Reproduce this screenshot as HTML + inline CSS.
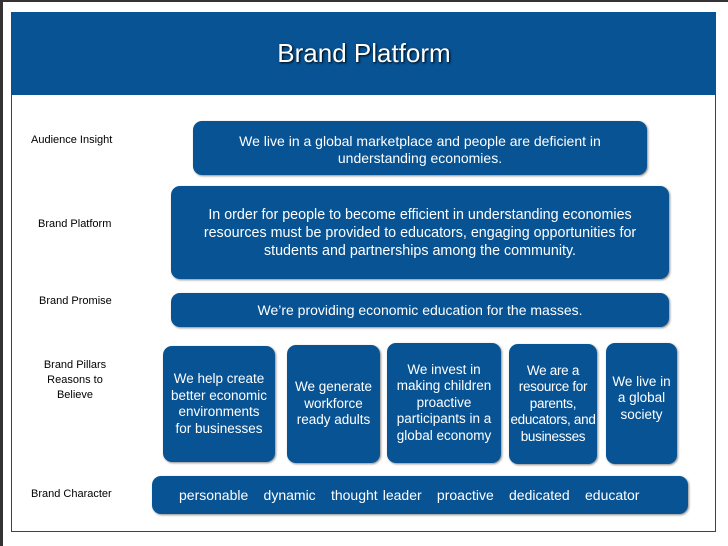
<!DOCTYPE html>
<html><head><style>
body{margin:0;width:728px;height:546px;background:#fff;position:relative;overflow:hidden;font-family:"Liberation Sans",sans-serif}
.frame{position:absolute;left:11px;top:12px;width:705px;height:520px;border:1px solid #2b4660;box-sizing:border-box}
.hdr{position:absolute;left:12px;top:12px;width:704px;height:83px;background:#075394;color:#fff;font-size:26px;text-align:center;line-height:83px;text-shadow:1px 1px 2px #000}
.b{position:absolute;background:#075394;color:#fff;border-radius:9px;display:flex;align-items:center;justify-content:center;text-align:center;font-size:14px;line-height:17px;box-shadow:1px 1px 2px #888}
.p{font-size:13.5px;line-height:16.5px}
.l{position:absolute;font-size:11px;color:#000;text-align:center;line-height:15px}
</style></head><body>
<div style="position:absolute;left:0;top:0;width:728px;height:2px;background:#333"></div>
<div style="position:absolute;left:0;top:0;width:3px;height:546px;background:#333"></div>
<div class="frame"></div>
<div class="hdr">Brand Platform</div>
<div class="l" style="left:31px;top:133px">Audience Insight</div>
<div class="l" style="left:38px;top:217px">Brand Platform</div>
<div class="l" style="left:39px;top:294px">Brand Promise</div>
<div class="l" style="left:35px;top:358px;width:80px">Brand Pillars<br>Reasons to<br>Believe</div>
<div class="l" style="left:31px;top:487px">Brand Character</div>
<div class="b" style="left:193px;top:121px;width:454px;height:54px;padding-top:3px;box-sizing:border-box">We live in a global marketplace and people are deficient in<br>understanding economies.</div>
<div class="b" style="left:171px;top:186px;width:498px;height:93px;line-height:18px;font-size:14.3px">In order for people to become efficient in understanding economies<br>resources must be provided to educators, engaging opportunities for<br>students and partnerships among the community.</div>
<div class="b" style="left:171px;top:293px;width:498px;height:34px">We’re providing economic education for the masses.</div>
<div class="b p" style="left:163px;top:346px;width:112px;height:116px">We help create<br>better economic<br>environments<br>for businesses</div>
<div class="b p" style="left:287px;top:345px;width:93px;height:118px">We generate<br>workforce<br>ready adults</div>
<div class="b p" style="left:387px;top:343px;width:114px;height:120px">We invest in<br>making children<br>proactive<br>participants in a<br>global economy</div>
<div class="b p" style="left:509px;top:344px;width:88px;height:120px;letter-spacing:-0.3px">We are a<br>resource for<br>parents,<br>educators, and<br>businesses</div>
<div class="b p" style="left:606px;top:343px;width:71px;height:121px;padding-bottom:10px;box-sizing:border-box">We live in<br>a global<br>society</div>
<div class="b" style="left:152px;top:476px;width:536px;height:38px;justify-content:flex-start;padding-left:27px;box-sizing:border-box;white-space:pre;word-spacing:1.2px">personable   dynamic   thought leader   proactive   dedicated   educator</div>
</body></html>
